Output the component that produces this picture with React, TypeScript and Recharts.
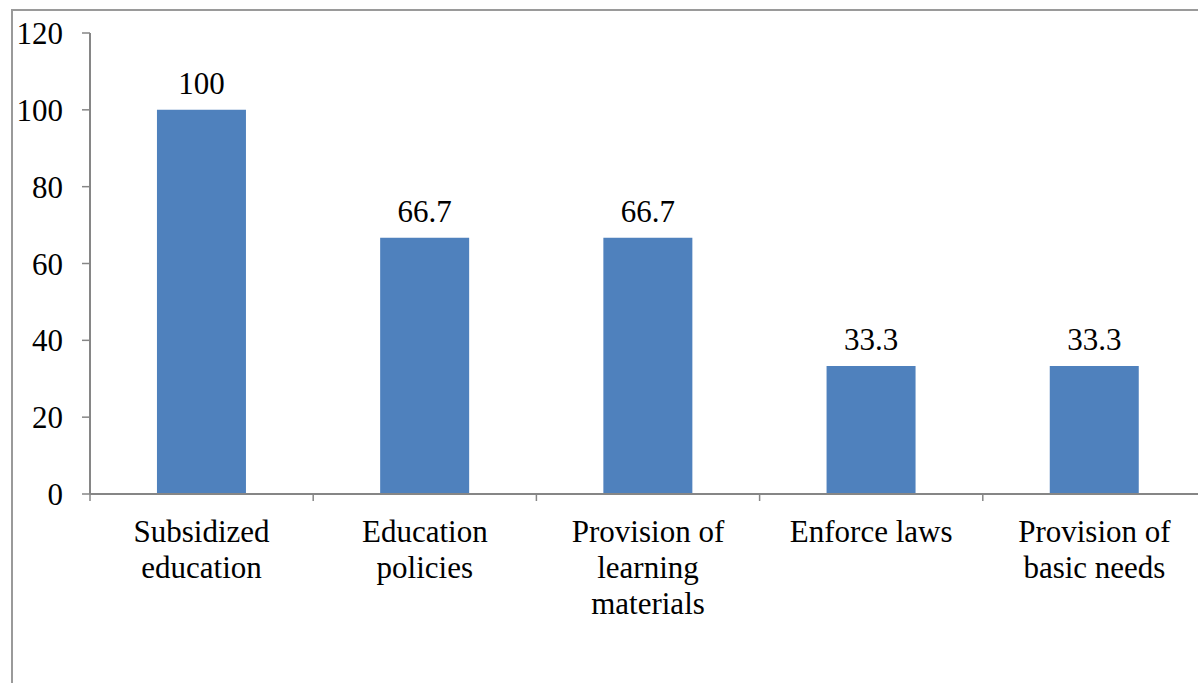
import React from "react";
import { BarChart, Bar, XAxis, YAxis, LabelList } from "recharts";

const categories = [
  "Subsidized\neducation",
  "Education\npolicies",
  "Provision of\nlearning\nmaterials",
  "Enforce laws",
  "Provision of\nbasic needs",
];
const percentages = [100, 66.7, 66.7, 33.3, 33.3];
const yTicks = [0, 20, 40, 60, 80, 100, 120];

const data = categories.map((name, i) => ({ name, value: percentages[i] }));

const FONT = "Liberation Serif";
const AXIS = "#868686";

// category label split on line breaks, with tick marks at the band edges
const CategoryTick = (props: any) => {
  const { x, y, payload, index, visibleTicksCount, width } = props;
  const half =
    payload.offset != null && payload.offset > 0
      ? payload.offset
      : width / visibleTicksCount / 2;
  const lines = String(payload.value).split("\n");
  const edges = [x - half];
  if (index === visibleTicksCount - 1) edges.push(x + half);
  return (
    <g>
      {edges.map((ex, i) => (
        <line
          key={i}
          x1={ex}
          x2={ex}
          y1={y}
          y2={y + 7}
          stroke={AXIS}
          strokeWidth={1.5}
        />
      ))}
      <text
        x={x}
        y={y + 48}
        textAnchor="middle"
        fill="#000"
        style={{ fontFamily: FONT, fontSize: 31 }}
      >
        {lines.map((line, i) => (
          <tspan key={i} x={x} dy={i === 0 ? 0 : 36}>
            {line}
          </tspan>
        ))}
      </text>
    </g>
  );
};

export default function App() {
  return (
    <div
      style={{
        position: "fixed",
        inset: 0,
        overflow: "hidden",
        background: "#fff",
        fontFamily: FONT,
      }}
    >
      <div
        style={{
          position: "absolute",
          left: 11,
          top: 9,
          width: 1230,
          height: 700,
          border: "2px solid #9a9a9a",
        }}
      >
        <BarChart
          width={1230}
          height={700}
          data={data}
          margin={{ top: 22, right: 37, bottom: 87, left: 0 }}
          barCategoryGap="30%"
          style={{ fontFamily: FONT }}
        >
          <XAxis
            dataKey="name"
            height={130}
            interval={0}
            axisLine={{ stroke: AXIS, strokeWidth: 2 }}
            tickLine={false}
            tickSize={0}
            tickMargin={0}
            tick={<CategoryTick />}
          />
          <YAxis
            width={77}
            domain={[0, 120]}
            ticks={yTicks}
            axisLine={{ stroke: AXIS, strokeWidth: 2 }}
            tickLine={{ stroke: AXIS, strokeWidth: 1.5 }}
            tickSize={8}
            tickMargin={19}
            tick={{ fill: "#000", style: { fontFamily: FONT, fontSize: 31 } }}
          />
          <Bar dataKey="value" fill="#4f81bd" isAnimationActive={false}>
            <LabelList
              dataKey="value"
              position="top"
              offset={16}
              fill="#000"
              style={{ fontFamily: FONT, fontSize: 31 }}
            />
          </Bar>
        </BarChart>
      </div>
    </div>
  );
}
